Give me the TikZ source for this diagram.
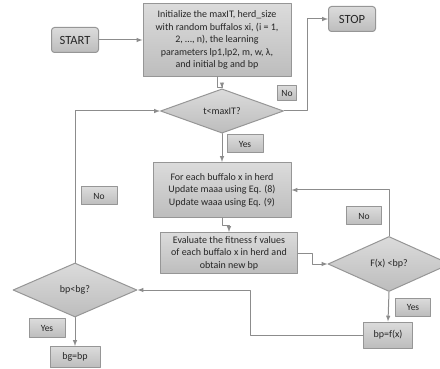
\documentclass[tikz,border=0pt]{standalone}
\usepackage{fontspec}
\setmainfont{Carlito}
\usepackage{tikz}
\tikzset{>=latex}
\usetikzlibrary{shapes,arrows}
\usetikzlibrary{calc}
\definecolor{boxline}{RGB}{150,150,150}
\definecolor{wire}{RGB}{140,140,140}
\tikzset{
	procbox/.style={draw=boxline,line width=1pt,top color=black!14,bottom color=black!26,
		text=black!85,align=center,inner sep=0pt,font=\fontsize{10}{12.5}\selectfont},
	termbox/.style={procbox,rounded corners=3pt,font=\fontsize{12.5}{14}\selectfont},
	decbox/.style={procbox,diamond,inner sep=0pt},
	tagbox/.style={procbox,font=\fontsize{9.5}{11}\selectfont},
	wire/.style={->,draw=wire,line width=1pt}
}
\begin{document}
\begin{tikzpicture}[line cap=round,line join=round,x=1pt,y=-1pt]
		\useasboundingbox (0,0) rectangle (440,369);
		% main steps
		\node[termbox,minimum width=47,minimum height=25] (start) at (75,40) {START};
		\node[procbox,minimum width=148,minimum height=73] (init) at (217,40)
			{Initialize the maxIT, herd\_size\\with random buffalos xi, (i = 1,\\2, \dots, n), the learning\\parameters lp1,lp2, m, w, λ,\\and initial bg and bp};
		\node[termbox,minimum width=47,minimum height=25] (stop) at (352,19) {STOP};
		\node[decbox,minimum width=123,minimum height=36] (tmax) at (222,111) {t<maxIT?};
		\node[procbox,minimum width=138,minimum height=55] (upd) at (222,190)
			{For each buffalo x in herd\\Update maaa using Eq. (8)\\Update waaa using Eq. (9)};
		\node[procbox,minimum width=137,minimum height=41] (eval) at (229,253)
			{Evaluate the fitness f values\\of each buffalo x in herd and\\obtain new bp};
		\node[decbox,minimum width=122,minimum height=55] (fbp) at (389,264) {F(x) <bp?};
		\node[procbox,minimum width=49,minimum height=26] (bpf) at (388,335) {bp=f(x)};
		\node[decbox,minimum width=124,minimum height=54] (bpbg) at (75,290) {bp<bg?};
		\node[procbox,minimum width=50,minimum height=21] (bgbp) at (75,357) {bg=bp};
		% yes / no tags
		\node[tagbox,minimum width=19,minimum height=15] (no1) at (287,93) {No};
		\node[tagbox,minimum width=36,minimum height=18] (yes1) at (245,144) {Yes};
		\node[tagbox,minimum width=36,minimum height=18] (no2) at (99,196) {No};
		\node[tagbox,minimum width=35,minimum height=18] (no3) at (364,216) {No};
		\node[tagbox,minimum width=35,minimum height=18] (yes2) at (413,307) {Yes};
		\node[tagbox,minimum width=36,minimum height=19] (yes3) at (47,328) {Yes};
		% connectors
		\draw[wire] (start) -- (init);
		\draw[wire] (init.south) -- ++(0,11) -| (tmax.north);
		\draw[wire] (tmax.east) -- ++(23,0) |- (stop.west);
		\draw[wire] (tmax.south) -- (upd.north);
		\draw[wire] (upd.south) -- ++(0,8) -| (eval.north);
		\draw[wire] (eval.east) -- ++(14,0) |- (fbp.west);
		\draw[wire] (fbp.north) |- (upd.east);
		\draw[wire] (fbp.south) -- (bpf.north);
		\draw[wire] (bpf.west) -- ++(-113,0) |- (bpbg.east);
		\draw[wire] (bpbg.north) |- (tmax.west);
		\draw[wire] (bpbg.south) -- (bgbp.north);
\end{tikzpicture}
\end{document}
